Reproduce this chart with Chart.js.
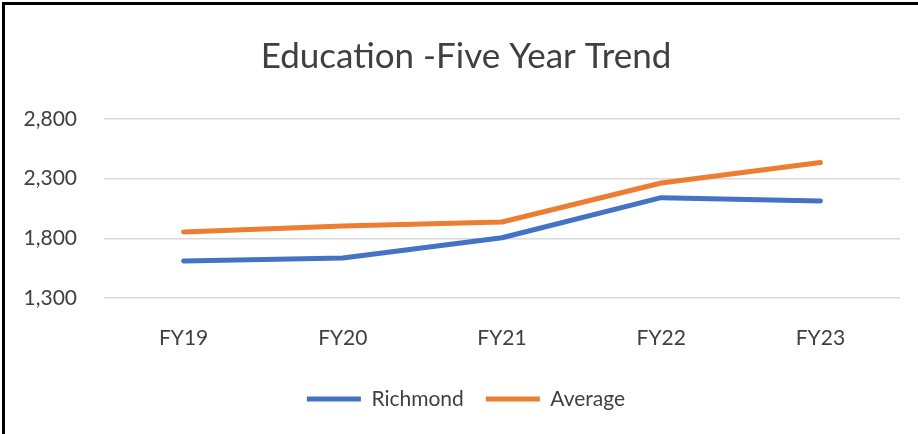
<!DOCTYPE html>
<html>
<head>
<meta charset="utf-8">
<script src="https://cdn.jsdelivr.net/npm/chart.js@4.4.1/dist/chart.umd.min.js"></script>
<style>
  html, body { margin: 0; padding: 0; background: #ffffff; }
  #wrap { position: relative; width: 918px; height: 434px; overflow: hidden; }
  #c { position: absolute; left: 0; top: 0; }
  #frame { position: absolute; left: 2px; top: 2px; right: -10px; bottom: -10px;
           border-left: 3px solid #000; border-top: 3px solid #000; pointer-events: none; }
</style>
</head>
<body>
<div id="wrap">
  <canvas id="c" width="918" height="434"></canvas>
  <div id="frame"></div>
</div>
<script>
const categories = ['FY19', 'FY20', 'FY21', 'FY22', 'FY23'];
const richmond = [1610, 1635, 1805, 2141, 2113];
const average = [1853, 1903, 1937, 2264, 2435];
const yMin = 1300;
const yMax = 2800;
const yStep = 500;
const chartTitle = 'Education -Five Year Trend';

const FONT = 'Lato, "Open Sans", sans-serif';
const TEXT = '#404040';

new Chart(document.getElementById('c'), {
  type: 'line',
  data: {
    labels: categories,
    datasets: [
      { label: 'Richmond', data: richmond, borderColor: '#4472C4', backgroundColor: '#4472C4',
        borderWidth: 5, borderCapStyle: 'round', borderJoinStyle: 'round', pointRadius: 0, tension: 0, fill: false },
      { label: 'Average', data: average, borderColor: '#ED7D31', backgroundColor: '#ED7D31',
        borderWidth: 5, borderCapStyle: 'round', borderJoinStyle: 'round', pointRadius: 0, tension: 0, fill: false }
    ]
  },
  options: {
    responsive: false,
    animation: false,
    devicePixelRatio: 1,
    layout: { padding: { left: 14, right: 0, top: 0, bottom: 14.5 } },
    plugins: {
      title: { display: true, text: chartTitle, color: TEXT,
               font: { family: FONT, size: 35, weight: 'normal' },
               padding: { top: 36, bottom: 41 } },
      legend: { position: 'bottom',
                labels: { color: TEXT, font: { family: FONT, size: 21 }, usePointStyle: true,
                          pointStyle: 'line', pointStyleWidth: 54, padding: 22 } },
      tooltip: { enabled: false }
    },
    scales: {
      x: {
        offset: true,
        grid: { display: false, drawTicks: false },
        border: { display: false },
        ticks: { color: TEXT, font: { family: FONT, size: 21 }, padding: 28, maxRotation: 0 },
        afterFit: (s) => { s.height = 68.5; }
      },
      y: {
        min: yMin, max: yMax,
        grid: { color: '#d9d9d9', lineWidth: 1.5, drawTicks: false },
        border: { display: false },
        ticks: { stepSize: yStep, color: TEXT, font: { family: FONT, size: 21 }, padding: 27,
                 callback: (v) => v.toLocaleString('en-US') },
        afterFit: (s) => { s.width = 90; }
      },
      yRightSpace: {
        type: 'linear', position: 'right', display: true,
        grid: { display: false, drawTicks: false },
        border: { display: false },
        ticks: { display: false },
        afterFit: (s) => { s.width = 18; }
      }
    }
  }
});
</script>
</body>
</html>
